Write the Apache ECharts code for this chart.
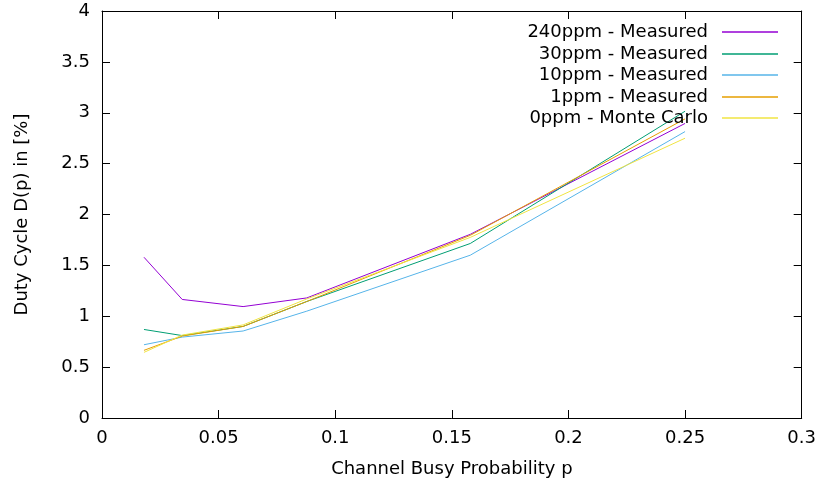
<!DOCTYPE html>
<html>
<head>
<meta charset="utf-8">
<script src="https://cdn.jsdelivr.net/npm/echarts@6/dist/echarts.min.js"></script>
<style>html,body{margin:0;padding:0;background:#fff}#c{width:819px;height:489px}</style>
</head>
<body>
<div id="c"></div>
<script>
const busyProb = [0.0180, 0.0344, 0.0605, 0.0878, 0.1579, 0.25];
const ppm240 = [1.58, 1.165, 1.095, 1.18, 1.805, 2.895];
const ppm30 = [0.87, 0.81, 0.90, 1.145, 1.715, 3.015];
const ppm10 = [0.72, 0.795, 0.855, 1.05, 1.60, 2.815];
const ppm1 = [0.665, 0.805, 0.90, 1.145, 1.795, 2.94];
const ppm0mc = [0.645, 0.815, 0.915, 1.17, 1.775, 2.75];
const seriesNames = ['240ppm - Measured', '30ppm - Measured', '10ppm - Measured', '1ppm - Measured', '0ppm - Monte Carlo'];
const seriesColors = ['#9400d3', '#009e73', '#56b4e9', '#e69f00', '#f0e442'];
const seriesValues = [ppm240, ppm30, ppm10, ppm1, ppm0mc];

const font = 'DejaVu Sans';
const fs = 18;
const chart = echarts.init(document.getElementById('c'), null, {renderer: 'canvas'});
const axisCommon = {
  min: 0,
  axisLine: {show: true, onZero: false, lineStyle: {color: '#000', width: 1}},
  axisTick: {show: true, inside: true, length: 8, lineStyle: {color: '#000'}},
  splitLine: {show: false}
};
const legendTops = [18, 40, 61, 83, 104];
chart.setOption({
  animation: false,
  textStyle: {fontFamily: font},
  grid: {left: 102, right: 17, top: 11, bottom: 71},
  legend: seriesNames.map((n, i) => ({
    data: [n], right: 36, top: legendTops[i], align: 'right',
    icon: 'rect', itemWidth: 56, itemHeight: 1.5,
    textStyle: {fontFamily: font, fontSize: fs, color: '#000', padding: [0, 9, 0, 0]}
  })),
  xAxis: [
    Object.assign({}, axisCommon, {type: 'value', max: 0.3, interval: 0.05, position: 'bottom',
      name: 'Channel Busy Probability p', nameLocation: 'middle', nameGap: 42,
      nameTextStyle: {fontFamily: font, fontSize: fs, color: '#000'},
      axisLabel: {fontFamily: font, fontSize: fs, color: '#000', margin: 11}}),
    Object.assign({}, axisCommon, {type: 'value', max: 0.3, interval: 0.05, position: 'top', axisLabel: {show: false}})
  ],
  yAxis: [
    Object.assign({}, axisCommon, {type: 'value', max: 4, interval: 0.5, position: 'left',
      name: 'Duty Cycle D(p) in [%]', nameLocation: 'middle', nameGap: 71,
      nameTextStyle: {fontFamily: font, fontSize: fs, color: '#000'},
      axisLabel: {fontFamily: font, fontSize: fs, color: '#000', margin: 12}}),
    Object.assign({}, axisCommon, {type: 'value', max: 4, interval: 0.5, position: 'right', axisLabel: {show: false}})
  ],
  series: seriesNames.map((n, i) => ({
    name: n, type: 'line', symbol: 'none', xAxisIndex: 0, yAxisIndex: 0,
    color: seriesColors[i],
    lineStyle: {width: 1, color: seriesColors[i]},
    data: busyProb.map((x, j) => [x, seriesValues[i][j]])
  }))
});
</script>
</body>
</html>
